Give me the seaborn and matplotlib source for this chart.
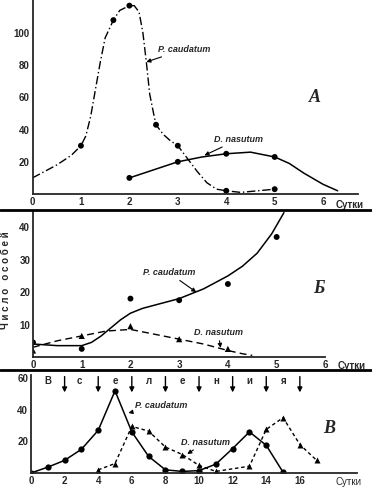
import numpy as np
import pandas as pd
import matplotlib
matplotlib.use('Agg')
import matplotlib.pyplot as plt
from matplotlib.lines import Line2D
import seaborn as sns

# --- Panel A (mixed culture, no shelter) ---
a_pc_days = [1, 1.67, 2, 2.55, 3, 4, 5]
a_pc_vals = [30, 108, 117, 43, 30, 2, 3]
a_pc_curve_x = [0, 0.5, 0.8, 1, 1.1, 1.2, 1.3, 1.4, 1.5, 1.67, 1.8, 2, 2.1, 2.2, 2.28, 2.35, 2.42,
                2.5, 2.55, 2.7, 2.85, 3, 3.2, 3.4, 3.6, 3.8, 4, 4.3, 5]
a_pc_curve_y = [10, 18, 24, 30, 36, 48, 65, 82, 97, 108, 114, 117, 117, 113, 100, 82, 62,
                50, 43, 37, 33, 30, 22, 14, 7, 3, 2, 1, 3]
a_dn_days = [2, 3, 4, 5]
a_dn_vals = [10, 20, 25, 23]
a_dn_curve_x = [2, 2.5, 3, 3.5, 4, 4.5, 5, 5.3, 5.6, 6, 6.3]
a_dn_curve_y = [10, 15, 20, 23, 25, 26, 23, 19, 13, 6, 2]

# --- Panel Б (with shelter) ---
b_pc_days = [0, 1, 2, 3, 4, 5]
b_pc_vals = [4.5, 2.5, 18, 17.5, 22.5, 37]
b_pc_curve_x = [0, 0.5, 1, 1.2, 1.4, 1.6, 1.8, 2, 2.25, 2.5, 2.75, 3, 3.5, 4, 4.3, 4.6, 4.9, 5.15]
b_pc_curve_y = [4, 3.5, 3.5, 4.5, 6.5, 9, 11.5, 13.5, 15, 16, 17, 18, 21, 25, 28, 32, 38, 44.5]
b_dn_days = [0, 1, 2, 3, 4]
b_dn_vals = [2, 6.5, 9.5, 5.5, 2.5]
b_dn_curve_x = [0, 0.5, 1, 1.5, 2, 2.5, 3, 3.5, 4, 4.3, 4.5]
b_dn_curve_y = [3, 5, 6.5, 8, 8.5, 7, 5.5, 4, 2, 1, 0.5]

# --- Panel В (with immigration) ---
c_pc_days = list(range(0, 16))
c_pc_vals = [0, 3.7, 8, 15, 27, 52, 26, 10.5, 2, 1, 1.5, 5.6, 15.5, 26, 17.5, 0.5]
c_dn_days = [4, 5, 6, 7, 8, 9, 10, 11, 13, 14, 15, 16, 17]
c_dn_vals = [2, 6, 29.5, 26.5, 16.4, 11.7, 4.8, 1, 4.3, 27.6, 35, 18, 8]
immig_days = [2, 4, 6, 8, 10, 12, 14, 16]
immig_letters = ['В', 'с', 'е', 'л', 'е', 'н', 'и', 'я']
immig_letter_x = [1, 2.9, 5, 7, 9, 11, 13, 15]

sns.set_style('ticks')
plt.rcParams['font.family'] = ['Liberation Sans', 'DejaVu Sans']

fig = plt.figure(figsize=(3.72, 4.87), dpi=100)
W, H = 372, 487


def make_ax(left, right, top, bottom):
    return fig.add_axes([left / W, 1 - bottom / H, (right - left) / W, (bottom - top) / H])


def style_ax(ax, xticks, yticks, xlim, ylim):
    ax.set_xlim(*xlim)
    ax.set_ylim(*ylim)
    ax.set_xticks(xticks)
    ax.set_yticks(yticks)
    ax.tick_params(length=0, labelsize=7, pad=2)
    for lab in ax.get_xticklabels() + ax.get_yticklabels():
        lab.set_fontweight('bold')
    sns.despine(ax=ax)
    for s in ['left', 'bottom']:
        ax.spines[s].set_linewidth(1.3)
    ax.set_xlabel('')
    ax.set_ylabel('')


def note(ax, text, xy, xytext, ha='left'):
    ax.annotate(text, xy=xy, xytext=xytext, fontsize=6.5, fontstyle='italic', fontweight='bold',
                ha=ha, va='center',
                arrowprops=dict(arrowstyle='-|>', lw=0.8, color='k', mutation_scale=6, shrinkA=0, shrinkB=0))


# Panel A
axA = make_ax(32.5, 358, 0, 194)
sns.lineplot(x=a_pc_curve_x, y=a_pc_curve_y, ax=axA, color='k', lw=1, linestyle=(0, (6, 2, 1, 2)), sort=False)
sns.scatterplot(x=a_pc_days, y=a_pc_vals, ax=axA, color='k', s=18, edgecolor='none')
sns.lineplot(x=a_dn_curve_x, y=a_dn_curve_y, ax=axA, color='k', lw=1.1, sort=False)
sns.scatterplot(x=a_dn_days, y=a_dn_vals, ax=axA, color='k', s=18, edgecolor='none')
style_ax(axA, range(0, 7), [20, 40, 60, 80, 100], (0, 6.72), (0, 120.5))
axA.text(6.25, -3.5, 'Сутки', fontsize=7, fontweight='bold', va='top')
note(axA, 'P. caudatum', (2.35, 82), (2.6, 90))
note(axA, 'D. nasutum', (3.55, 24), (3.75, 34))
axA.text(5.7, 60, 'A', fontsize=13, fontstyle='italic', fontweight='bold', family='Liberation Serif', va='center')

# Panel Б
axB = make_ax(33, 358, 212, 357)
sns.lineplot(x=b_pc_curve_x, y=b_pc_curve_y, ax=axB, color='k', lw=1.1, sort=False)
sns.scatterplot(x=b_pc_days, y=b_pc_vals, ax=axB, color='k', s=18, edgecolor='none')
sns.lineplot(x=b_dn_curve_x, y=b_dn_curve_y, ax=axB, color='k', lw=1, linestyle=(0, (5, 3)), sort=False)
sns.scatterplot(x=b_dn_days, y=b_dn_vals, ax=axB, color='k', s=20, marker='^', edgecolor='none')
style_ax(axB, range(0, 7), [10, 20, 30, 40], (0, 6.67), (0, 44.7))
axB.spines['bottom'].set_bounds(0, 6.0)
axB.text(6.25, -1.3, 'Сутки', fontsize=7, fontweight='bold', va='top')
note(axB, 'P. caudatum', (3.35, 20), (2.25, 26))
note(axB, 'D. nasutum', (3.85, 2.8), (3.3, 7.4))
axB.text(5.75, 21, 'Б', fontsize=13, fontstyle='italic', fontweight='bold', family='Liberation Serif', va='center')

# Panel В
axC = make_ax(31, 357, 375, 473)
sns.lineplot(x=c_pc_days, y=c_pc_vals, ax=axC, color='k', lw=1.1, marker='o', markersize=4.5,
             markeredgecolor='none')
sns.lineplot(x=c_dn_days, y=c_dn_vals, ax=axC, color='k', lw=1, linestyle=(0, (2.5, 2)), marker='^',
             markersize=4.5, markeredgecolor='none')
style_ax(axC, range(0, 17, 2), [20, 40, 60], (0, 19.4), (0, 62))
axC.text(18.1, -2.5, 'Сутки', fontsize=7, va='top', ha='left', fontweight='normal')
for d in immig_days:
    axC.annotate('', xy=(d, 51), xytext=(d, 61),
                 arrowprops=dict(arrowstyle='-|>', lw=1, color='k', mutation_scale=7, shrinkA=0, shrinkB=0))
for lx, lt in zip(immig_letter_x, immig_letters):
    axC.text(lx, 58, lt, fontsize=7, fontweight='bold', ha='center', va='center')
note(axC, 'P. caudatum', (5.8, 38), (6.2, 43))
note(axC, 'D. nasutum', (9.3, 12), (8.9, 19.5))
axC.text(17.4, 28, 'B', fontsize=13, fontstyle='italic', fontweight='bold', family='Liberation Serif', va='center')

# separators and shared y label
for yp in [210, 370]:
    fig.add_artist(Line2D([0, 1], [1 - yp / H, 1 - yp / H], transform=fig.transFigure, color='k', lw=2))
fig.text(6 / W, 1 - 280 / H, 'Ч и с л о   о с о б е й', rotation=90, fontsize=7, fontweight='bold',
         ha='center', va='center')

fig.savefig('out.png', dpi=100, facecolor='white')
